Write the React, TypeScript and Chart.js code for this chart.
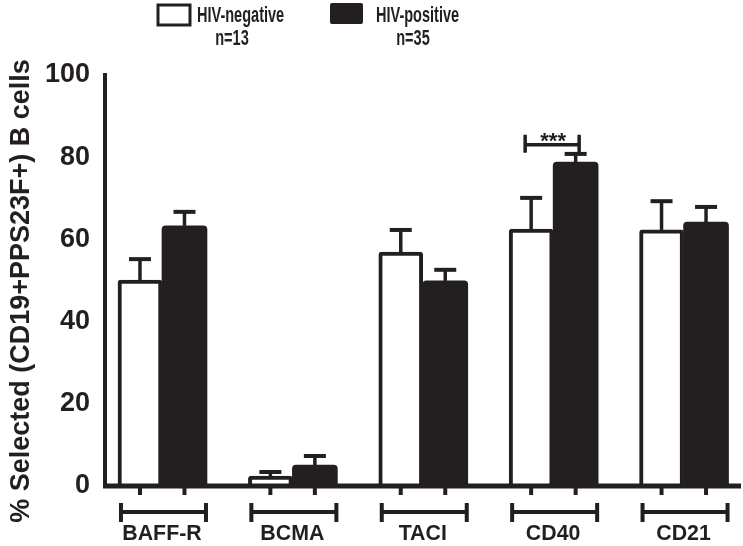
import { useEffect, useRef } from "react";
import { Chart, registerables } from "chart.js";

Chart.register(...registerables);

// ---- data ----
const categories = ["BAFF-R", "BCMA", "TACI", "CD40", "CD21"];
const hivNegative = [50.1, 2.4, 56.9, 62.5, 62.3];
const hivNegativeErr = [5.1, 1.0, 5.4, 7.6, 7.0];
const hivPositive = [63.3, 5.1, 49.9, 78.8, 64.2];
const hivPositiveErr = [3.4, 2.2, 2.7, 2.0, 3.7];
const yTicks = [0, 20, 40, 60, 80, 100];
const seriesNames = ["HIV-negative", "HIV-positive"];
const seriesCounts = ["n=13", "n=35"];
const sigCategoryIndex = [3];
const sigLabels = ["***"];
const sigLevels = [83];
const yTitle = "% Selected (CD19+PPS23F+) B cells";

const INK = "#231f20";
const FONT = "'Liberation Sans', Arial, Helvetica, sans-serif";

function narrowText(
  ctx: CanvasRenderingContext2D,
  text: string,
  x: number,
  y: number,
  font: string,
  sx: number,
  align: CanvasTextAlign
) {
  ctx.save();
  ctx.font = font;
  ctx.textAlign = align;
  ctx.textBaseline = "middle";
  ctx.translate(x, y);
  ctx.scale(sx, 1);
  ctx.fillText(text, 0, 0);
  ctx.restore();
}

const decorPlugin = {
  id: "decor",
  afterDatasetsDraw(chart: any) {
    const ctx: CanvasRenderingContext2D = chart.ctx;
    const xs = chart.scales.x;
    const ys = chart.scales.y;
    const area = chart.chartArea;
    ctx.save();
    ctx.strokeStyle = INK;
    ctx.fillStyle = INK;
    ctx.lineCap = "butt";

    // error bars
    const errs = [hivNegativeErr, hivPositiveErr];
    const vals = [hivNegative, hivPositive];
    for (let d = 0; d < 2; d++) {
      const meta = chart.getDatasetMeta(d);
      meta.data.forEach((el: any, i: number) => {
        const yb = ys.getPixelForValue(vals[d][i]);
        const yt = ys.getPixelForValue(vals[d][i] + errs[d][i]);
        ctx.lineWidth = 3.5;
        ctx.beginPath();
        ctx.moveTo(el.x, yb);
        ctx.lineTo(el.x, yt);
        ctx.stroke();
        ctx.lineWidth = 4;
        ctx.beginPath();
        ctx.moveTo(el.x - 11, yt);
        ctx.lineTo(el.x + 11, yt);
        ctx.stroke();
      });
    }

    // x axis line
    const y0 = ys.getPixelForValue(0);
    ctx.lineWidth = 5;
    ctx.beginPath();
    ctx.moveTo(area.left - 2, y0);
    ctx.lineTo(area.right + 1, y0);
    ctx.stroke();

    // tick marks under axis at bar centres
    for (let d = 0; d < 2; d++) {
      const meta = chart.getDatasetMeta(d);
      meta.data.forEach((el: any) => {
        ctx.lineWidth = 4;
        ctx.beginPath();
        ctx.moveTo(el.x, y0 + 2);
        ctx.lineTo(el.x, y0 + 9);
        ctx.stroke();
      });
    }

    // category brackets + labels
    categories.forEach((c, i) => {
      const gc = xs.getPixelForValue(i);
      const x1 = gc - 41;
      const x2 = gc + 44;
      const by = 512;
      ctx.lineWidth = 4;
      ctx.beginPath();
      ctx.moveTo(x1, by);
      ctx.lineTo(x2, by);
      ctx.moveTo(x1, by - 9);
      ctx.lineTo(x1, by + 10);
      ctx.moveTo(x2, by - 9);
      ctx.lineTo(x2, by + 10);
      ctx.stroke();
      narrowText(ctx, c, gc, 534, `bold 22px ${FONT}`, 0.97, "center");
    });

    // significance bracket
    sigCategoryIndex.forEach((ci, k) => {
      const gc = xs.getPixelForValue(ci);
      const sy = ys.getPixelForValue(sigLevels[k]);
      const x1 = gc - 28;
      const x2 = gc + 26;
      ctx.lineWidth = 3.5;
      ctx.beginPath();
      ctx.moveTo(x1, sy);
      ctx.lineTo(x2, sy);
      ctx.moveTo(x1, sy - 10);
      ctx.lineTo(x1, sy + 8);
      ctx.moveTo(x2, sy - 10);
      ctx.lineTo(x2, sy + 8);
      ctx.stroke();
      ctx.font = `bold 22px ${FONT}`;
      ctx.textAlign = "center";
      ctx.textBaseline = "alphabetic";
      ctx.fillText(sigLabels[k], (x1 + x2) / 2 + 1, sy + 3);
    });

    // legend
    ctx.lineWidth = 3;
    ctx.strokeRect(158, 5, 32, 20);
    ctx.beginPath();
    ctx.roundRect(330, 3, 33, 21, 2);
    ctx.fill();
    const lf = `bold 22px ${FONT}`;
    narrowText(ctx, seriesNames[0], 197, 16, lf, 0.66, "left");
    narrowText(ctx, seriesCounts[0], 232, 39, lf, 0.66, "center");
    narrowText(ctx, seriesNames[1], 376, 16, lf, 0.66, "left");
    narrowText(ctx, seriesCounts[1], 413, 39, lf, 0.66, "center");

    // y title
    ctx.save();
    ctx.translate(22, 291);
    ctx.rotate(-Math.PI / 2);
    ctx.font = `bold 27px ${FONT}`;
    ctx.textAlign = "center";
    ctx.textBaseline = "middle";
    ctx.fillText(yTitle, 0, 0);
    ctx.restore();

    ctx.restore();
  },
};

export default function App() {
  const ref = useRef<HTMLCanvasElement | null>(null);
  useEffect(() => {
    document.body.style.margin = "0";
    const canvas = ref.current!;
    const chart = new Chart(canvas, {
      type: "bar",
      data: {
        datasets: [
          {
            label: seriesNames[0],
            data: hivNegative.map((v, i) => ({ x: i, y: v })),
            backgroundColor: "#ffffff",
            borderColor: INK,
            borderWidth: 4,
            borderSkipped: "bottom",
            borderRadius: 3,
            barThickness: 44,
          },
          {
            label: seriesNames[1],
            data: hivPositive.map((v, i) => ({ x: i, y: v })),
            backgroundColor: INK,
            borderColor: INK,
            borderWidth: 0,
            borderSkipped: "bottom",
            borderRadius: 4,
            barThickness: 45,
          },
        ],
      },
      options: {
        responsive: false,
        animation: false,
        layout: { padding: { left: 0, right: 3, top: 75, bottom: 60 } },
        plugins: { legend: { display: false }, tooltip: { enabled: false } },
        scales: {
          x: {
            type: "linear",
            display: false,
            offset: false,
            grid: { offset: false },
            min: -0.437,
            max: 4.433,
          },
          y: {
            min: 0,
            max: 100,
            afterBuildTicks: (s: any) => {
              s.ticks = yTicks.map((v) => ({ value: v }));
            },
            afterFit: (s: any) => {
              s.width = 105;
            },
            grid: { display: false },
            border: { display: true, width: 4, color: INK },
            ticks: {
              color: INK,
              padding: 7,
              font: { family: FONT, size: 27, weight: "bold" },
            },
          },
        },
      },
      plugins: [decorPlugin],
    } as any);
    return () => chart.destroy();
  }, []);
  return <canvas ref={ref} width={743} height={546} style={{ display: "block" }} />;
}
